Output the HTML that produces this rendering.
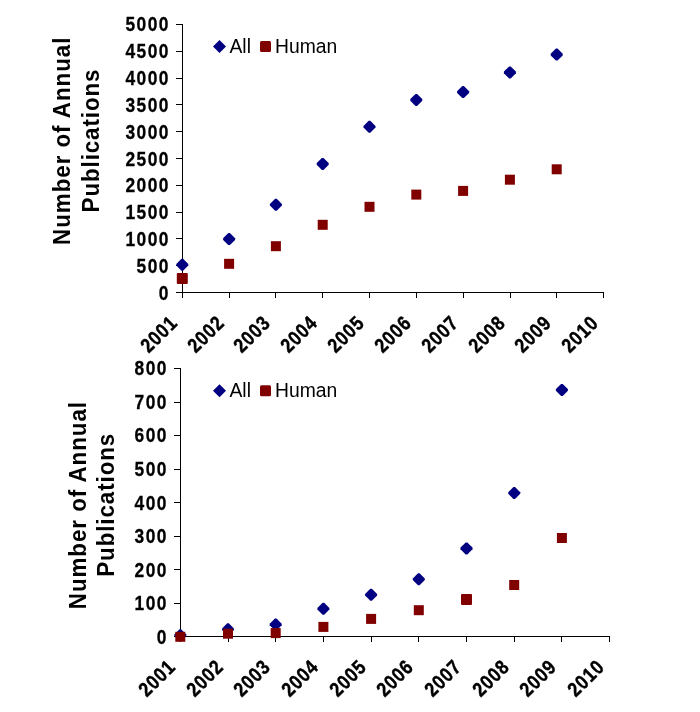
<!DOCTYPE html>
<html><head><meta charset="utf-8"><style>
html,body{margin:0;padding:0;background:#fff;width:700px;height:712px;overflow:hidden}
svg{display:block;will-change:transform}
text{font-family:"Liberation Sans",sans-serif;fill:#000}
.tk{font-size:19.3px;font-weight:bold;stroke:#000;stroke-width:0.3px}
.xl{font-size:19.3px;font-weight:bold;stroke:#000;stroke-width:0.4px}
.tt{font-size:24.3px;font-weight:bold}
.lg{font-size:19.3px}
</style></head><body>
<svg width="700" height="712" viewBox="0 0 700 712">
<path d="M182.5 24 V292.5 M176 292.5 H603.5" stroke="#000" stroke-width="1" fill="none"/>
<path d="M176 292.5 H182 M176 265.5 H182 M176 238.5 H182 M176 212.5 H182 M176 185.5 H182 M176 158.5 H182 M176 131.5 H182 M176 104.5 H182 M176 78.5 H182 M176 51.5 H182 M176 24.5 H182 M182.5 292 V298 M229.5 292 V298 M275.5 292 V298 M322.5 292 V298 M369.5 292 V298 M416.5 292 V298 M463.5 292 V298 M510.5 292 V298 M556.5 292 V298 M603.5 292 V298" stroke="#000" stroke-width="1" fill="none"/>
<text class="tk" text-anchor="end" letter-spacing="1.6" transform="translate(169.9,300) scale(0.9,1)">0</text>
<text class="tk" text-anchor="end" letter-spacing="1.6" transform="translate(169.9,273) scale(0.9,1)">500</text>
<text class="tk" text-anchor="end" letter-spacing="1.6" transform="translate(169.9,246) scale(0.9,1)">1000</text>
<text class="tk" text-anchor="end" letter-spacing="1.6" transform="translate(169.9,219) scale(0.9,1)">1500</text>
<text class="tk" text-anchor="end" letter-spacing="1.6" transform="translate(169.9,192) scale(0.9,1)">2000</text>
<text class="tk" text-anchor="end" letter-spacing="1.6" transform="translate(169.9,166) scale(0.9,1)">2500</text>
<text class="tk" text-anchor="end" letter-spacing="1.6" transform="translate(169.9,139) scale(0.9,1)">3000</text>
<text class="tk" text-anchor="end" letter-spacing="1.6" transform="translate(169.9,112) scale(0.9,1)">3500</text>
<text class="tk" text-anchor="end" letter-spacing="1.6" transform="translate(169.9,85) scale(0.9,1)">4000</text>
<text class="tk" text-anchor="end" letter-spacing="1.6" transform="translate(169.9,58) scale(0.9,1)">4500</text>
<text class="tk" text-anchor="end" letter-spacing="1.6" transform="translate(169.9,31) scale(0.9,1)">5000</text>
<text class="xl" text-anchor="end" letter-spacing="1.0" transform="translate(178.7,324.0) rotate(-45) scale(0.9,1.05)">2001</text>
<text class="xl" text-anchor="end" letter-spacing="1.0" transform="translate(225.7,324.0) rotate(-45) scale(0.9,1.05)">2002</text>
<text class="xl" text-anchor="end" letter-spacing="1.0" transform="translate(271.7,324.0) rotate(-45) scale(0.9,1.05)">2003</text>
<text class="xl" text-anchor="end" letter-spacing="1.0" transform="translate(318.7,324.0) rotate(-45) scale(0.9,1.05)">2004</text>
<text class="xl" text-anchor="end" letter-spacing="1.0" transform="translate(365.7,324.0) rotate(-45) scale(0.9,1.05)">2005</text>
<text class="xl" text-anchor="end" letter-spacing="1.0" transform="translate(412.7,324.0) rotate(-45) scale(0.9,1.05)">2006</text>
<text class="xl" text-anchor="end" letter-spacing="1.0" transform="translate(459.7,324.0) rotate(-45) scale(0.9,1.05)">2007</text>
<text class="xl" text-anchor="end" letter-spacing="1.0" transform="translate(506.7,324.0) rotate(-45) scale(0.9,1.05)">2008</text>
<text class="xl" text-anchor="end" letter-spacing="1.0" transform="translate(552.7,324.0) rotate(-45) scale(0.9,1.05)">2009</text>
<text class="xl" text-anchor="end" letter-spacing="1.0" transform="translate(599.7,324.0) rotate(-45) scale(0.9,1.05)">2010</text>
<text class="tt" text-anchor="middle" letter-spacing="1.05" transform="translate(70.3,140.8) rotate(-90) scale(0.92,1)">Number of Annual</text>
<text class="tt" text-anchor="middle" letter-spacing="1.0" transform="translate(99.3,140.5) rotate(-90) scale(0.92,1)">Publications</text>
<path d="M219.5 40.0 L226 46.5 L219.5 53.0 L213 46.5 Z" fill="#000080"/>
<text x="229.5" y="52.8" class="lg">All</text>
<rect x="260" y="41.0" width="11" height="11" rx="1.5" fill="#800000"/>
<text x="275" y="52.8" class="lg">Human</text>
<path d="M181.50 258.70 L183.10 258.70 L188.30 263.90 L188.30 265.50 L183.10 270.70 L181.50 270.70 L176.30 265.50 L176.30 263.90 Z" fill="#000080"/>
<path d="M228.30 233.10 L229.90 233.10 L235.10 238.30 L235.10 239.90 L229.90 245.10 L228.30 245.10 L223.10 239.90 L223.10 238.30 Z" fill="#000080"/>
<path d="M275.10 198.80 L276.70 198.80 L281.90 204.00 L281.90 205.60 L276.70 210.80 L275.10 210.80 L269.90 205.60 L269.90 204.00 Z" fill="#000080"/>
<path d="M321.90 157.90 L323.50 157.90 L328.70 163.10 L328.70 164.70 L323.50 169.90 L321.90 169.90 L316.70 164.70 L316.70 163.10 Z" fill="#000080"/>
<path d="M368.70 120.80 L370.30 120.80 L375.50 126.00 L375.50 127.60 L370.30 132.80 L368.70 132.80 L363.50 127.60 L363.50 126.00 Z" fill="#000080"/>
<path d="M415.50 93.90 L417.10 93.90 L422.30 99.10 L422.30 100.70 L417.10 105.90 L415.50 105.90 L410.30 100.70 L410.30 99.10 Z" fill="#000080"/>
<path d="M462.30 86.10 L463.90 86.10 L469.10 91.30 L469.10 92.90 L463.90 98.10 L462.30 98.10 L457.10 92.90 L457.10 91.30 Z" fill="#000080"/>
<path d="M509.10 66.40 L510.70 66.40 L515.90 71.60 L515.90 73.20 L510.70 78.40 L509.10 78.40 L503.90 73.20 L503.90 71.60 Z" fill="#000080"/>
<path d="M555.90 48.60 L557.50 48.60 L562.70 53.80 L562.70 55.40 L557.50 60.60 L555.90 60.60 L550.70 55.40 L550.70 53.80 Z" fill="#000080"/>
<rect x="176.80" y="273.10" width="11" height="11" rx="1" fill="#800000"/>
<rect x="224.10" y="258.80" width="10.0" height="10.0" rx="0" fill="#800000"/>
<rect x="270.90" y="241.20" width="10.0" height="10.0" rx="0" fill="#800000"/>
<rect x="317.70" y="219.80" width="10.0" height="10.0" rx="0" fill="#800000"/>
<rect x="364.50" y="201.80" width="10.0" height="10.0" rx="0" fill="#800000"/>
<rect x="411.30" y="189.60" width="10.0" height="10.0" rx="0" fill="#800000"/>
<rect x="458.10" y="185.90" width="10.0" height="10.0" rx="0" fill="#800000"/>
<rect x="504.90" y="174.70" width="10.0" height="10.0" rx="0" fill="#800000"/>
<rect x="551.70" y="164.30" width="10.0" height="10.0" rx="0" fill="#800000"/>
<path d="M180.5 368 V636.5 M174 636.5 H609.5" stroke="#000" stroke-width="1" fill="none"/>
<path d="M174 636.5 H180 M174 603.5 H180 M174 569.5 H180 M174 536.5 H180 M174 502.5 H180 M174 469.5 H180 M174 435.5 H180 M174 402.5 H180 M174 368.5 H180 M180.5 636 V642 M228.5 636 V642 M275.5 636 V642 M323.5 636 V642 M371.5 636 V642 M418.5 636 V642 M466.5 636 V642 M514.5 636 V642 M561.5 636 V642 M609.5 636 V642" stroke="#000" stroke-width="1" fill="none"/>
<text class="tk" text-anchor="end" letter-spacing="1.6" transform="translate(167.9,644) scale(0.9,1)">0</text>
<text class="tk" text-anchor="end" letter-spacing="1.6" transform="translate(167.9,610) scale(0.9,1)">100</text>
<text class="tk" text-anchor="end" letter-spacing="1.6" transform="translate(167.9,577) scale(0.9,1)">200</text>
<text class="tk" text-anchor="end" letter-spacing="1.6" transform="translate(167.9,543) scale(0.9,1)">300</text>
<text class="tk" text-anchor="end" letter-spacing="1.6" transform="translate(167.9,510) scale(0.9,1)">400</text>
<text class="tk" text-anchor="end" letter-spacing="1.6" transform="translate(167.9,476) scale(0.9,1)">500</text>
<text class="tk" text-anchor="end" letter-spacing="1.6" transform="translate(167.9,442) scale(0.9,1)">600</text>
<text class="tk" text-anchor="end" letter-spacing="1.6" transform="translate(167.9,409) scale(0.9,1)">700</text>
<text class="tk" text-anchor="end" letter-spacing="1.6" transform="translate(167.9,375) scale(0.9,1)">800</text>
<text class="xl" text-anchor="end" letter-spacing="1.0" transform="translate(176.7,668.0) rotate(-45) scale(0.9,1.05)">2001</text>
<text class="xl" text-anchor="end" letter-spacing="1.0" transform="translate(224.7,668.0) rotate(-45) scale(0.9,1.05)">2002</text>
<text class="xl" text-anchor="end" letter-spacing="1.0" transform="translate(271.7,668.0) rotate(-45) scale(0.9,1.05)">2003</text>
<text class="xl" text-anchor="end" letter-spacing="1.0" transform="translate(319.7,668.0) rotate(-45) scale(0.9,1.05)">2004</text>
<text class="xl" text-anchor="end" letter-spacing="1.0" transform="translate(367.7,668.0) rotate(-45) scale(0.9,1.05)">2005</text>
<text class="xl" text-anchor="end" letter-spacing="1.0" transform="translate(414.7,668.0) rotate(-45) scale(0.9,1.05)">2006</text>
<text class="xl" text-anchor="end" letter-spacing="1.0" transform="translate(462.7,668.0) rotate(-45) scale(0.9,1.05)">2007</text>
<text class="xl" text-anchor="end" letter-spacing="1.0" transform="translate(510.7,668.0) rotate(-45) scale(0.9,1.05)">2008</text>
<text class="xl" text-anchor="end" letter-spacing="1.0" transform="translate(557.7,668.0) rotate(-45) scale(0.9,1.05)">2009</text>
<text class="xl" text-anchor="end" letter-spacing="1.0" transform="translate(605.7,668.0) rotate(-45) scale(0.9,1.05)">2010</text>
<text class="tt" text-anchor="middle" letter-spacing="1.05" transform="translate(86.3,505.1) rotate(-90) scale(0.92,1)">Number of Annual</text>
<text class="tt" text-anchor="middle" letter-spacing="1.0" transform="translate(114.3,504.8) rotate(-90) scale(0.92,1)">Publications</text>
<path d="M219.5 384.2 L226 390.7 L219.5 397.2 L213 390.7 Z" fill="#000080"/>
<text x="229.5" y="397.0" class="lg">All</text>
<rect x="260" y="385.2" width="11" height="11" rx="1.5" fill="#800000"/>
<text x="275" y="397.0" class="lg">Human</text>
<path d="M179.50 629.30 L181.10 629.30 L186.30 634.50 L186.30 636.10 L181.10 641.30 L179.50 641.30 L174.30 636.10 L174.30 634.50 Z" fill="#000080"/>
<path d="M227.20 623.20 L228.80 623.20 L234.00 628.40 L234.00 630.00 L228.80 635.20 L227.20 635.20 L222.00 630.00 L222.00 628.40 Z" fill="#000080"/>
<path d="M274.90 618.50 L276.50 618.50 L281.70 623.70 L281.70 625.30 L276.50 630.50 L274.90 630.50 L269.70 625.30 L269.70 623.70 Z" fill="#000080"/>
<path d="M322.60 602.70 L324.20 602.70 L329.40 607.90 L329.40 609.50 L324.20 614.70 L322.60 614.70 L317.40 609.50 L317.40 607.90 Z" fill="#000080"/>
<path d="M370.30 588.80 L371.90 588.80 L377.10 594.00 L377.10 595.60 L371.90 600.80 L370.30 600.80 L365.10 595.60 L365.10 594.00 Z" fill="#000080"/>
<path d="M418.00 573.30 L419.60 573.30 L424.80 578.50 L424.80 580.10 L419.60 585.30 L418.00 585.30 L412.80 580.10 L412.80 578.50 Z" fill="#000080"/>
<path d="M465.70 542.40 L467.30 542.40 L472.50 547.60 L472.50 549.20 L467.30 554.40 L465.70 554.40 L460.50 549.20 L460.50 547.60 Z" fill="#000080"/>
<path d="M513.40 487.00 L515.00 487.00 L520.20 492.20 L520.20 493.80 L515.00 499.00 L513.40 499.00 L508.20 493.80 L508.20 492.20 Z" fill="#000080"/>
<path d="M561.10 383.90 L562.70 383.90 L567.90 389.10 L567.90 390.70 L562.70 395.90 L561.10 395.90 L555.90 390.70 L555.90 389.10 Z" fill="#000080"/>
<rect x="175.30" y="631.80" width="10.0" height="10.0" rx="0" fill="#800000"/>
<rect x="223.00" y="628.70" width="10.0" height="10.0" rx="0" fill="#800000"/>
<rect x="270.70" y="628.10" width="10.0" height="10.0" rx="0" fill="#800000"/>
<rect x="318.40" y="621.90" width="10.0" height="10.0" rx="0" fill="#800000"/>
<rect x="366.10" y="613.90" width="10.0" height="10.0" rx="0" fill="#800000"/>
<rect x="413.80" y="605.20" width="10.0" height="10.0" rx="0" fill="#800000"/>
<rect x="461.00" y="593.90" width="11" height="11" rx="1" fill="#800000"/>
<rect x="509.20" y="580.00" width="10.0" height="10.0" rx="0" fill="#800000"/>
<rect x="556.90" y="533.00" width="10.0" height="10.0" rx="0" fill="#800000"/>
</svg>
</body></html>
